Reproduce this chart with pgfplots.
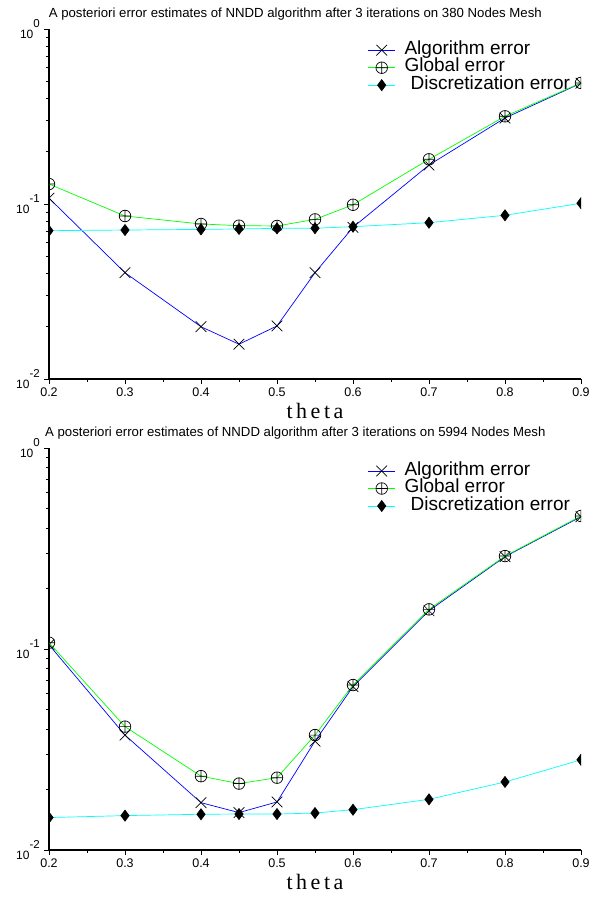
\documentclass[border=0pt]{standalone}
\usepackage{fontspec}
\setmainfont{Liberation Sans}
\newfontfamily\thetafont[LetterSpace=16]{Liberation Serif}
\usepackage{pgfplots}
\pgfplotsset{compat=1.18}
\usetikzlibrary{plotmarks}
\definecolor{puregreen}{RGB}{0,255,0}
\definecolor{purecyan}{RGB}{0,255,255}

% theta  algorithm  global  discretization
\pgfplotstableread{
th    alg     glob    disc
0.20  0.108   0.130   0.0704
0.30  0.0405  0.0854  0.0710
0.40  0.0199  0.0769  0.0716
0.45  0.0158  0.0752  0.0720
0.50  0.0201  0.0749  0.0726
0.55  0.0405  0.0817  0.0727
0.60  0.0736  0.0990  0.0742
0.70  0.167   0.180   0.0782
0.80  0.310   0.317   0.0862
0.90  0.490   0.492   0.101
}\meshA
\pgfplotstableread{
th    alg     glob    disc
0.20  0.105   0.1075  0.0145
0.30  0.0373  0.0411  0.01483
0.40  0.0172  0.0233  0.01506
0.45  0.01535 0.0214  0.0151
0.50  0.01734 0.0229  0.0151
0.55  0.0348  0.0373  0.01527
0.60  0.0650  0.0662  0.01587
0.70  0.155   0.1575  0.01787
0.80  0.288   0.290   0.0218
0.90  0.455   0.459   0.0281
}\meshB

\newcommand{\tenpow}[1]{10\raisebox{11pt}{\fontsize{11.5}{11.5}\selectfont #1}}

\pgfplotsset{
  errplot/.style={
    scale only axis, width=532pt,
    xmin=0.2, xmax=0.9, ymin=0.01, ymax=1,
    axis x line=bottom, axis y line=left,
    axis line style={-, line width=1.1pt},
    tick align=outside,
    major tick length=5pt, minor tick length=3pt,
    every tick/.style={black, line width=0.8pt},
    xtick={0.2,0.3,0.4,0.5,0.6,0.7,0.8,0.9},
    xticklabels={0.2,0.3,0.4,0.5,0.6,0.7,0.8,0.9},
    minor xtick={0.25,0.35,0.45,0.55,0.65,0.75,0.85},
    ytick={0.01,0.1,1},
    yticklabels={\tenpow{-2},\tenpow{-1},\tenpow{0}},
    minor ytick={0.02,0.03,0.04,0.05,0.06,0.07,0.08,0.09,0.2,0.3,0.4,0.5,0.6,0.7,0.8,0.9},
    xticklabel style={font=\fontsize{12.5}{13}\selectfont},
    yticklabel style={font=\fontsize{12}{12}\selectfont, inner xsep=4pt},
    title style={font=\fontsize{13.2}{14}\selectfont, at={(0.463,1)}, anchor=base, yshift=5.5pt},
    xlabel={\thetafont theta},
    xlabel style={font=\fontsize{22}{22}\selectfont},
    clip marker paths=true,
    legend style={at={(0.599,0.965)}, anchor=north west, draw=none, fill=none,
      font=\fontsize{19}{19}\selectfont, inner sep=0pt,
      nodes={text height=12pt, text depth=3.5pt, inner sep=1pt},
      cells={anchor=west}},
  },
  alg/.style={draw=blue, line width=0.7pt, mark=x, mark size=7.5pt, mark options={draw=black, line width=0.7pt},
    legend image code/.code={\draw[blue,line width=0.7pt] (0pt,0pt)--(27pt,0pt);
      \draw[black,line width=0.7pt] plot[mark=x, mark size=7.5pt] coordinates {(13.5pt,0pt)};}},
  glob/.style={draw=puregreen, line width=0.7pt, mark=oplus, mark size=5.8pt, mark options={draw=black, line width=0.7pt},
    legend image code/.code={\draw[puregreen,line width=0.7pt] (0pt,0pt)--(27pt,0pt);
      \draw[black,line width=0.7pt] plot[mark=oplus, mark size=5.8pt] coordinates {(13.5pt,0pt)};}},
  disc/.style={draw=purecyan, line width=0.7pt, mark=diamond*, mark size=5.5pt, mark options={draw=black, fill=black},
    legend image code/.code={\draw[purecyan,line width=0.7pt] (0pt,0pt)--(27pt,0pt);
      \draw[black,fill=black] plot[mark=diamond*, mark size=5.5pt] coordinates {(13.5pt,0pt)};}},
}

\begin{document}
\begin{tikzpicture}
\useasboundingbox (0,0) rectangle (592pt,900pt);
\begin{semilogyaxis}[errplot, at={(49pt,521pt)}, anchor=south west, height=350pt,
  title={A posteriori error estimates of NNDD algorithm after 3 iterations on 380 Nodes Mesh}]
\addplot[alg] table[x=th,y=alg]{\meshA};
\addlegendentry{\hspace{8pt}Algorithm error}
\addplot[glob] table[x=th,y=glob]{\meshA};
\addlegendentry{\hspace{8pt}Global error}
\addplot[disc] table[x=th,y=disc]{\meshA};
\addlegendentry{\hspace{14pt}Discretization error}
\end{semilogyaxis}
\begin{semilogyaxis}[errplot, at={(49pt,50pt)}, anchor=south west, height=402pt,
  title={A posteriori error estimates of NNDD algorithm after 3 iterations on 5994 Nodes Mesh}]
\addplot[alg] table[x=th,y=alg]{\meshB};
\addlegendentry{\hspace{8pt}Algorithm error}
\addplot[glob] table[x=th,y=glob]{\meshB};
\addlegendentry{\hspace{8pt}Global error}
\addplot[disc] table[x=th,y=disc]{\meshB};
\addlegendentry{\hspace{14pt}Discretization error}
\end{semilogyaxis}
\end{tikzpicture}
\end{document}
